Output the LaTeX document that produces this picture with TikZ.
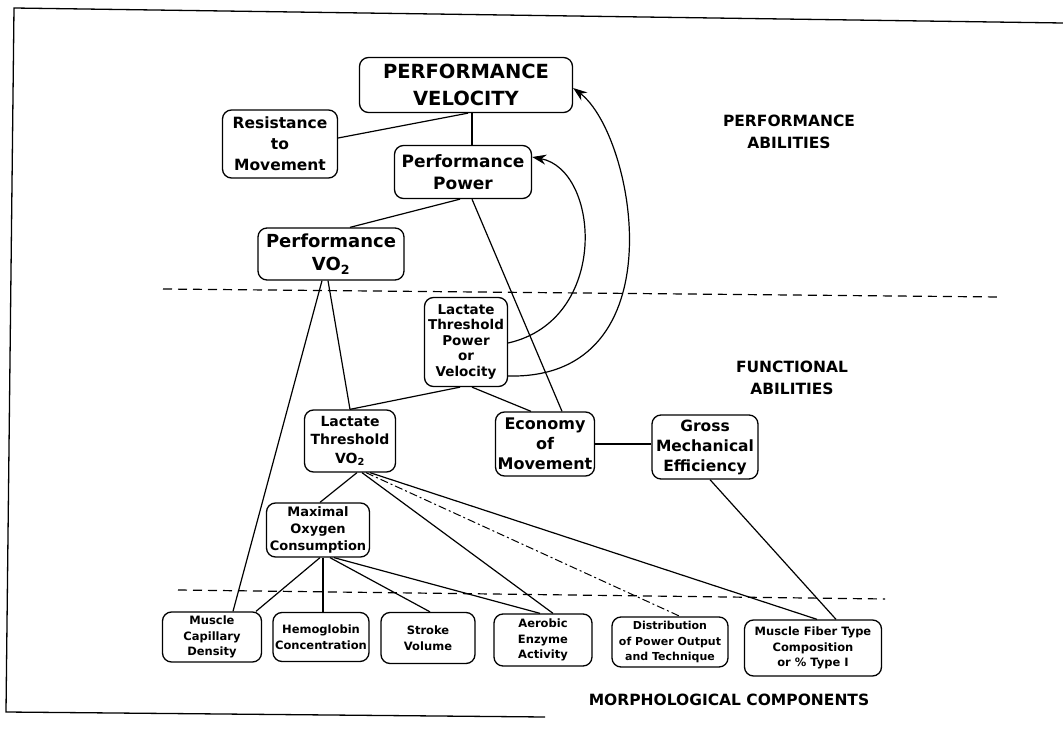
\documentclass[tikz,border=0pt]{standalone}
\usepackage{fontspec}
\setmainfont{DejaVu Sans}
\usetikzlibrary{arrows.meta}
\newcommand\fsz[2]{\fontsize{#1}{#2}\selectfont\bfseries}
\begin{document}
\begin{tikzpicture}[x=1pt,y=-1pt,
  box/.style={draw, rounded corners=9pt, line width=1.3pt, align=center, inner sep=1pt},
  conn/.style={line width=1.2pt},
  curvarrow/.style={line width=1.2pt, -{Stealth[length=14pt,width=10pt]}},
  sep/.style={line width=1.2pt, dash pattern=on 9pt off 6pt},
  region/.style={align=center, font=\fsz{15.5}{22}},
  frame/.style={line width=1.3pt}
]
\useasboundingbox (0,0) rectangle (1063,738);
\draw[frame] (1063,23) -- (14,8) -- (6,712) -- (545,717);

% separators
\draw[sep] (163,289) -- (1000,297);
\draw[sep] (178,590) -- (885,599);

% region labels
\node[region] (pa) at (789,132) {PERFORMANCE\\ABILITIES};
\node[region] (fa) at (792,378) {FUNCTIONAL\\ABILITIES};
\node[region] (mc) at (729,700) {MORPHOLOGICAL COMPONENTS};

% nodes
\node[box, minimum width=213pt, minimum height=55pt, font=\fsz{19.5}{27}] (PV) at (466,85) {PERFORMANCE\\VELOCITY};
\node[box, minimum width=115pt, minimum height=68pt, font=\fsz{15.5}{21}] (Res) at (280,144) {Resistance\\to\\Movement};
\node[box, minimum width=137pt, minimum height=53pt, font=\fsz{17}{22}] (PP) at (463,172) {Performance\\Power};
\node[box, minimum width=146pt, minimum height=52pt, font=\fsz{18}{23}] (PVO) at (331,254) {Performance\\VO\textsubscript{2}};
\node[box, minimum width=83pt, minimum height=89pt, font=\fsz{13.5}{15.5}] (LTPV) at (466,342) {Lactate\\Threshold\\Power\\or\\Velocity};
\node[box, minimum width=91pt, minimum height=62pt, font=\fsz{14}{18.5}] (LTVO) at (350,441) {Lactate\\Threshold\\VO\textsubscript{2}};
\node[box, minimum width=99pt, minimum height=64pt, font=\fsz{16}{20}] (Eco) at (545,444) {Economy\\of\\Movement};
\node[box, minimum width=106pt, minimum height=64pt, font=\fsz{15.5}{20}] (GME) at (705,447) {Gross\\Mechanical\\Efficiency};
\node[box, minimum width=103pt, minimum height=54pt, font=\fsz{13}{17}] (MOC) at (318,530) {Maximal\\Oxygen\\Consumption};

\node[box, minimum width=99pt, minimum height=50pt, font=\fsz{11.5}{15.5}] (MCD) at (212,637) {Muscle\\Capillary\\Density};
\node[box, minimum width=96pt, minimum height=49pt, font=\fsz{11.5}{15.5}] (Hem) at (321,637) {Hemoglobin\\Concentration};
\node[box, minimum width=94pt, minimum height=51pt, font=\fsz{11.5}{15.5}] (SV) at (428,638) {Stroke\\Volume};
\node[box, minimum width=98pt, minimum height=52pt, font=\fsz{11.5}{15.5}] (Aer) at (543,640) {Aerobic\\Enzyme\\Activity};
\node[box, minimum width=116pt, minimum height=50pt, font=\fsz{11}{15.5}] (Dist) at (670,642) {Distribution\\of Power Output\\and Technique};
\node[box, minimum width=137pt, minimum height=56pt, font=\fsz{11.5}{15.5}] (MFT) at (813,648) {Muscle Fiber Type\\Composition\\or \% Type I};

% connectors
\draw[conn] ([xshift=6pt]PV.south) -- ([xshift=9pt]PP.north);
\draw[conn] ([yshift=6pt]Res.east) -- ([xshift=2pt]PV.south);
\draw[conn] ([xshift=-3pt]PP.south) -- ([xshift=19pt]PVO.north);
\draw[conn] ([xshift=9pt]PP.south) -- ([xshift=17pt]Eco.north);
\draw[conn] ([xshift=-9pt]PVO.south) -- ([xshift=21pt]MCD.north);
\draw[conn] ([xshift=-3pt]PVO.south) -- (LTVO.north);
\draw[conn] ([xshift=-6pt]LTPV.south) -- (LTVO.north);
\draw[conn] ([xshift=6pt]LTPV.south) -- ([xshift=-14pt]Eco.north);
\draw[conn] (Eco.east) -- (Eco.east -| GME.west);
\draw[conn] ([xshift=5pt]GME.south) -- ([xshift=23pt]MFT.north);
\draw[conn] ([xshift=7pt]LTVO.south) -- ([xshift=2pt]MOC.north);
\draw[conn] ([xshift=12pt]LTVO.south) -- ([xshift=10pt]Aer.north);
\draw[conn, line width=1pt, dash pattern=on 8pt off 3pt on 2pt off 3pt] ([xshift=16pt]LTVO.south) -- ([xshift=10pt]Dist.north);
\draw[conn] ([xshift=20pt]LTVO.south) -- ([xshift=4pt]MFT.north);
\draw[conn] ([xshift=2pt]MOC.south) -- ([xshift=44pt]MCD.north);
\draw[conn] ([xshift=5pt]MOC.south) -- ([xshift=2pt]Hem.north);
\draw[conn] ([xshift=12pt]MOC.south) -- ([xshift=2pt]SV.north);
\draw[conn] ([xshift=16pt]MOC.south) -- ([xshift=-3pt]Aer.north);

% curved arrows
\draw[curvarrow] ([yshift=-1pt]LTPV.east) .. controls (610,320) and (600,170) .. ([yshift=15pt]PP.east);
\draw[curvarrow] ([yshift=-34pt]LTPV.east) .. controls (680,380) and (635,135) .. ([yshift=-3pt]PV.east);
\end{tikzpicture}
\end{document}
